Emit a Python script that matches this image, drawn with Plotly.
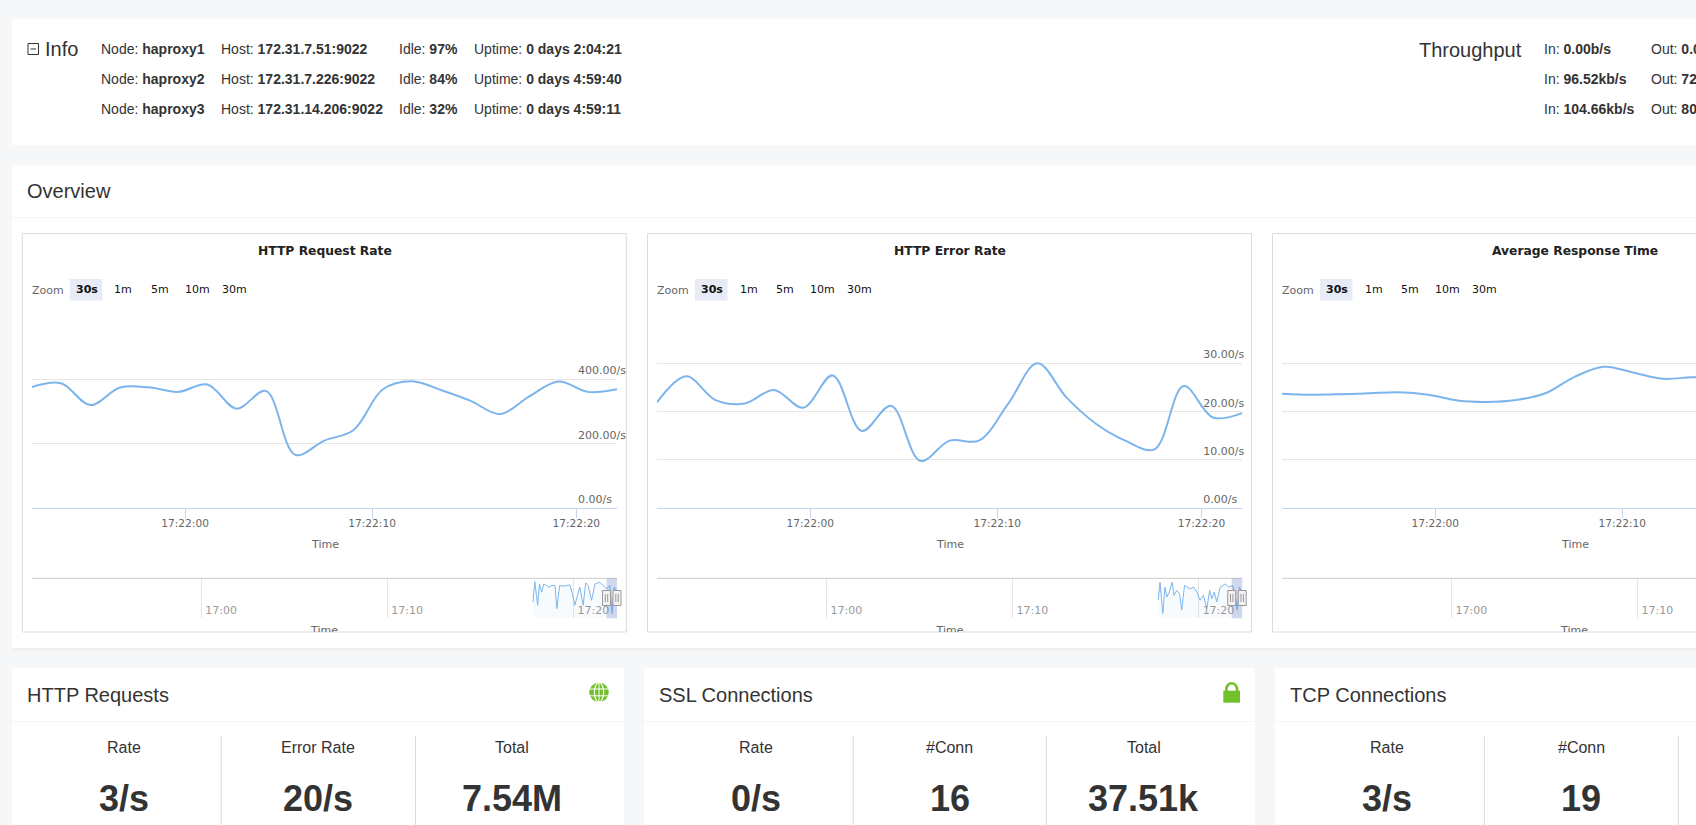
import plotly.graph_objects as go

W, H = 1696, 825
PAGE_FONT = "Liberation Sans"
CHART_FONT = "DejaVu Sans"
LINE_BLUE = "#7cb5ec"
GREEN = "#72c02c"
TEXT = "#333333"

# sample index along the ordinal time axis
SAMPLES = list(range(21))
REQ_RATE = [376, 388, 320, 374, 375, 361, 384, 309, 364, 166, 210, 243, 369, 394, 366, 333, 292, 347, 393, 361, 369]
ERR_RATE = [21.9, 27.3, 22.4, 21.7, 24.5, 20.8, 27.5, 16.0, 21.2, 9.8, 14.0, 14.0, 21.6, 30.0, 22.9, 17.5, 14.0, 12.2, 25.3, 18.8, 19.7]
RESP_TIME = [23.7, 23.5, 23.6, 23.8, 24.0, 23.5, 22.3, 22.0, 22.4, 23.8, 27.2, 29.3, 28.1, 26.8, 27.1, 27.2]

TIME_TICK_POS = [5.24, 11.63, 18.61]
TIME_TICK_LABELS = ["17:22:00", "17:22:10", "17:22:20"]

# the top gridline of each chart sits slightly above the last regular step
REQ_TOP = 604.6
ERR_TOP = 40.35
REQ_TICKS = [0, 200, 400, REQ_TOP]
REQ_TICK_LABELS = ["0.00/s", "200.00/s", "400.00/s", ""]
ERR_TICKS = [0, 10, 20, 30, ERR_TOP]
ERR_TICK_LABELS = ["0.00/s", "10.00/s", "20.00/s", "30.00/s", ""]

NAV_REQ_TIME = [
    "17:17:50", "17:17:56", "17:18:05", "17:18:11", "17:18:18", "17:18:25", "17:18:34", "17:18:41",
    "17:18:50", "17:19:01", "17:19:07", "17:19:16", "17:19:28", "17:19:49", "17:19:56", "17:20:05",
    "17:20:21", "17:20:32", "17:20:40", "17:20:48", "17:20:59", "17:21:10", "17:21:26", "17:21:47",
    "17:21:58", "17:22:05", "17:22:12", "17:22:20",
]
NAV_REQ = [240, 550, 190, 515, 390, 515, 490, 465, 490, 490, 140, 490, 480, 500, 390, 190, 465, 190, 530, 490, 265, 515, 540, 440, 490, 65, 465, 415]

NAV_ERR_TIME = [
    "17:17:50", "17:17:56", "17:18:05", "17:18:12", "17:18:18", "17:18:26", "17:18:35", "17:18:41",
    "17:18:50", "17:18:59", "17:19:06", "17:19:15", "17:19:25", "17:19:33", "17:19:44", "17:19:55",
    "17:20:05", "17:20:16", "17:20:27", "17:20:36", "17:20:43", "17:20:51", "17:20:59", "17:21:10",
    "17:21:26", "17:21:37", "17:21:50", "17:21:58", "17:22:05", "17:22:12", "17:22:20",
]
NAV_ERR = [17.7, 36, 4.3, 31, 21, 26, 36, 22.7, 27.7, 24.3, 7.7, 32.7, 31, 29.3, 31, 26, 17.7, 22.7, 9.3, 27.7, 19.3, 26, 16, 31, 34.3, 31, 32.7, 22.7, 7.7, 31, 26]

NAV_TICKS = ["17:00:00", "17:10:00", "17:20:00"]
NAV_TICK_LABELS = ["17:00", "17:10", "17:20"]

ZOOM_BUTTONS = ["30s", "1m", "5m", "10m", "30m"]

NODES = ["haproxy1", "haproxy2", "haproxy3"]
HOSTS = ["172.31.7.51:9022", "172.31.7.226:9022", "172.31.14.206:9022"]
IDLE = ["97%", "84%", "32%"]
UPTIME = ["0 days 2:04:21", "0 days 4:59:40", "0 days 4:59:11"]
THROUGHPUT_IN = ["0.00b/s", "96.52kb/s", "104.66kb/s"]
THROUGHPUT_OUT = ["0.0", "72", "80"]


def dt(hms):
    return "2021-03-01 " + hms


def fx(x):
    return x / W


def fy(y):
    return 1 - y / H


fig = go.Figure()
shapes = []
annotations = []
axes = {}


def rect(x0, y0, x1, y1, fill="white", line=None, layer="below"):
    shapes.append(dict(
        type="rect", xref="paper", yref="paper", layer=layer,
        x0=fx(x0), x1=fx(x1), y0=fy(y0), y1=fy(y1),
        fillcolor=fill, line=dict(color=line or fill, width=1 if line else 0),
    ))


def hline(x0, x1, y, color, layer="below"):
    shapes.append(dict(type="line", xref="paper", yref="paper", layer=layer,
                       x0=fx(x0), x1=fx(x1), y0=fy(y), y1=fy(y), line=dict(color=color, width=1)))


def vline(x, y0, y1, color, layer="below"):
    shapes.append(dict(type="line", xref="paper", yref="paper", layer=layer,
                       x0=fx(x), x1=fx(x), y0=fy(y0), y1=fy(y1), line=dict(color=color, width=1)))


def label(x, y, text, size=14, anchor="left", color=TEXT, family=PAGE_FONT):
    annotations.append(dict(
        xref="paper", yref="paper", x=fx(x), y=fy(y), text=text, showarrow=False,
        xanchor=anchor, yanchor="middle", borderpad=0, borderwidth=0,
        font=dict(size=size, color=color, family=family),
    ))


def add_chart(index, left, right, title, center, values, yticks, ytick_labels, yrange,
              nav_time=None, nav_values=None, xmax=20):
    n_main = 2 * index - 1
    n_nav = 2 * index
    xa, ya = f"x{n_main}", f"y{n_main}"
    xb, yb = f"x{n_nav}", f"y{n_nav}"

    # chart frame
    rect(left - 9.5, 233.5, min(left + 594.5, W + 5), 632, line="#dddddd")
    label(center, 251, f"<b>{title}</b>", size=12.3, anchor="center", color="#222222", family=CHART_FONT)

    # range selector row
    rect(left + 38, 279, left + 70.5, 300.5, fill="#e6ebf5")
    label(left, 290, "Zoom", size=11, color="#666666", family=CHART_FONT)
    for text, offset in zip(ZOOM_BUTTONS, [55.2, 91.5, 128.2, 165.2, 202.5]):
        shown = f"<b>{text}</b>" if text == "30s" else text
        label(left + offset, 289, shown, size=11, anchor="center", color="#111111", family=CHART_FONT)

    fig.add_trace(go.Scatter(
        x=SAMPLES[:len(values)], y=values, mode="lines", xaxis=xa, yaxis=ya, hoverinfo="skip",
        line=dict(color=LINE_BLUE, width=2, shape="spline", smoothing=1.0),
    ))
    axes[f"xaxis{n_main}"] = dict(
        domain=[fx(left), fx(right)], range=[0, xmax], anchor=ya, showgrid=False, zeroline=False,
        showline=True, linecolor="#c3d3ee", linewidth=1, ticks="outside", ticklen=9, tickcolor="#c3d3ee",
        tickmode="array", tickvals=TIME_TICK_POS, ticktext=TIME_TICK_LABELS,
        ticklabelstandoff=-4, layer="above traces",
        tickfont=dict(size=10.6, color="#666666", family=CHART_FONT),
    )
    axes[f"yaxis{n_main}"] = dict(
        domain=[fy(508.3), fy(313.3)], range=yrange, anchor=xa, side="right", zeroline=False,
        showline=False, showgrid=True, gridcolor="#e6e6e6", gridwidth=1, ticks="",
        tickmode="array", tickvals=yticks, ticktext=ytick_labels,
        ticklabelstandoff=-40, ticklabelshift=-9,
        tickfont=dict(size=11, color="#666666", family=CHART_FONT),
    )
    label(center, 544.5, "Time", size=11, anchor="center", color="#666666", family=CHART_FONT)

    # navigator strip below the chart
    nav_end_seconds = 1887 * xmax / 20
    minutes = int(nav_end_seconds // 60)
    seconds = int(nav_end_seconds % 60)
    start_s = 16 * 3600 + 50 * 60 + 54 + minutes * 60 + seconds
    nav_end = f"{start_s // 3600:02d}:{start_s % 3600 // 60:02d}:{start_s % 60:02d}"

    if nav_time:
        fig.add_trace(go.Scatter(
            x=[dt(t) for t in nav_time], y=nav_values, mode="lines", xaxis=xb, yaxis=yb, hoverinfo="skip",
            line=dict(color=LINE_BLUE, width=1), fill="tozeroy", fillcolor="rgba(124,181,236,0.05)",
        ))
    else:
        fig.add_trace(go.Scatter(x=[], y=[], xaxis=xb, yaxis=yb, hoverinfo="skip"))
    axes[f"xaxis{n_nav}"] = dict(
        domain=[fx(left), fx(right)], range=[dt("16:50:54"), dt(nav_end)], anchor=yb, type="date",
        showgrid=True, gridcolor="#e6e6e6", gridwidth=1, zeroline=False, showline=False, ticks="",
        tickmode="array", tickvals=[dt(t) for t in NAV_TICKS], ticktext=NAV_TICK_LABELS,
        ticklabelstandoff=-16, ticklabelshift=20,
        tickfont=dict(size=11, color="#999999", family=CHART_FONT),
    )
    axes[f"yaxis{n_nav}"] = dict(
        domain=[fy(617.7), fy(578.3)], range=[0, round(yrange[1], -1) if yrange[1] > 100 else 40],
        anchor=xb, showgrid=False, zeroline=False, showticklabels=False, ticks="",
    )
    hline(left, right, 578.3, "#cccccc", layer="above")

    if nav_time:
        rect(right - 10.5, 578.3, right, 618.3, fill="rgba(102,133,194,0.3)", layer="above")
        for cx in (right - 10.5, right):
            rect(cx - 4, 590.5, cx + 4, 605.5, fill="#f2f2f2", line="#999999", layer="above")
            vline(cx - 1.2, 594, 602, "#999999", layer="above")
            vline(cx + 1.2, 594, 602, "#999999", layer="above")


# page panels
rect(12, 19, W + 5, 145)
rect(12, 165, W + 5, 648)
hline(12, W, 217.5, "#f5f5f5")
hline(12, W, 649, "#e6e6e6")
hline(12, W, 650, "#f0f0f0")
rect(12, 668, 623.7, H + 5)
rect(644, 668, 1254.7, H + 5)
rect(1275, 668, W + 5, H + 5)
for x0, x1 in [(12, 623.7), (644, 1254.7), (1275, W)]:
    hline(x0, x1, 721.5, "#f5f5f5")

# info row
rect(28, 43.5, 38.5, 54.5, fill="white", line=TEXT)
hline(30.5, 36, 49, TEXT)
label(44.5, 49, "Info", size=20)
label(1419.3, 50, "Throughput", size=20)
for row, y in enumerate([49.3, 79.3, 109.3]):
    label(100.9, y, f"Node: <b>{NODES[row]}</b>")
    label(221, y, f"Host: <b>{HOSTS[row]}</b>")
    label(398.6, y, f"Idle: <b>{IDLE[row]}</b>")
    label(474, y, f"Uptime: <b>{UPTIME[row]}</b>")
    label(1544.3, y, f"In: <b>{THROUGHPUT_IN[row]}</b>")
    label(1651.3, y, f"Out: <b>{THROUGHPUT_OUT[row]}</b>")

label(26.7, 191, "Overview", size=20)

add_chart(1, 31.8, 617, "HTTP Request Rate", 325.3, REQ_RATE, REQ_TICKS, REQ_TICK_LABELS, [0, REQ_TOP],
          NAV_REQ_TIME, NAV_REQ)
add_chart(2, 657, 1242.2, "HTTP Error Rate", 950.4, ERR_RATE, ERR_TICKS, ERR_TICK_LABELS, [0, ERR_TOP],
          NAV_ERR_TIME, NAV_ERR)
add_chart(3, 1282, W, "Average Response Time", 1575.3, RESP_TIME, ERR_TICKS, [""] * 5, [0, ERR_TOP],
          xmax=14.15)

# navigator axis titles are cut off by the chart frame, so they sit in a clipped strip
fig.add_trace(go.Scatter(
    x=[324.5, 950, 1574.5], y=[0.1, 0.1, 0.1], mode="text", text=["Time", "Time", "Time"],
    textposition="middle center", textfont=dict(size=11, color="#666666", family=CHART_FONT),
    xaxis="x7", yaxis="y7", hoverinfo="skip",
))
axes["xaxis7"] = dict(domain=[0, 1], range=[0, W], visible=False, anchor="y7")
axes["yaxis7"] = dict(domain=[fy(632), fy(620)], range=[0, 1], visible=False, anchor="x7")

# stat cards
for x, text in [(26.8, "HTTP Requests"), (659, "SSL Connections"), (1290.2, "TCP Connections")]:
    label(x, 695, text, size=20)
for x in [221.2, 415.5, 853.2, 1046.3, 1484.3, 1678.3]:
    vline(x, 736, H + 5, "#dddddd")
stats = [
    (124, "Rate", "3/s"), (318.2, "Error Rate", "20/s"), (512.2, "Total", "7.54M"),
    (755.7, "Rate", "0/s"), (949.6, "#Conn", "16"), (1143.9, "Total", "37.51k"),
    (1387.3, "Rate", "3/s"), (1581, "#Conn", "19"),
]
for x, name, value in stats:
    label(x, 747, name, size=16, anchor="center")
    label(x, 798, f"<b>{value}</b>", size=36, anchor="center")


def ellipse(cx, cy, rx, ry, fill, line=None, width=0):
    shapes.append(dict(type="circle", xref="paper", yref="paper", layer="below",
                       x0=fx(cx - rx), x1=fx(cx + rx), y0=fy(cy + ry), y1=fy(cy - ry),
                       fillcolor=fill, line=dict(color=line or fill, width=width)))


# globe icon
ellipse(599, 692.3, 9.7, 9.7, GREEN)
ellipse(599, 692.3, 4.6, 9.7, "rgba(0,0,0,0)", "white", 1.2)
vline(599, 682.6, 702, "white")
hline(589.5, 608.5, 689, "white")
hline(589.5, 608.5, 695.8, "white")

# lock icon
ellipse(1231.7, 689.5, 5.4, 6.3, "rgba(0,0,0,0)", GREEN, 2.6)
rect(1223.3, 690.7, 1240, 702.7, fill=GREEN)

fig.update_layout(
    width=W, height=H, autosize=False, margin=dict(l=0, r=0, t=0, b=0, pad=0, autoexpand=False),
    paper_bgcolor="#f6f7f9", plot_bgcolor="rgba(0,0,0,0)", showlegend=False,
    font=dict(family=PAGE_FONT, color=TEXT), shapes=shapes, annotations=annotations, **axes,
)

fig.write_html(
    "out.html",
    config={"displayModeBar": False},
    post_script="document.body.style.margin='0';document.body.style.overflow='hidden';",
)
